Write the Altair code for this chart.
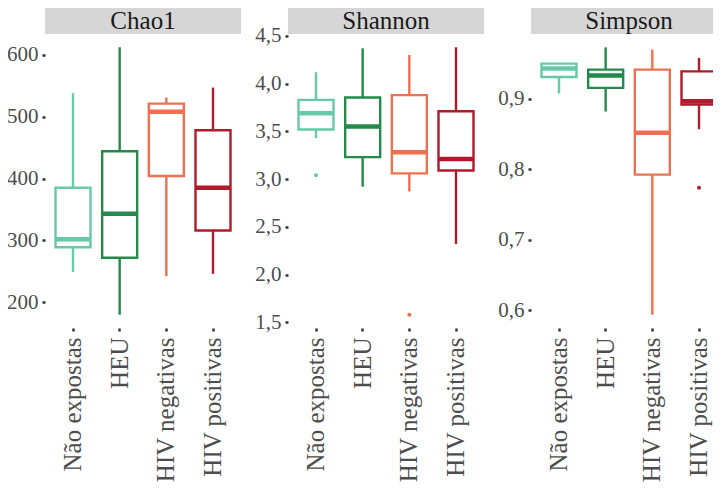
import altair as alt
import pandas as pd

groups = ["Não expostas", "HEU", "HIV negativas", "HIV positivas"]
colors = ["#66C9A8", "#24894A", "#EE7050", "#AE1B2C"]

# Chao1
chao1_low = [249, 180, 242, 246]
chao1_q1 = [289, 272, 404, 316]
chao1_med = [302, 343, 508, 385]
chao1_q3 = [385, 444, 521, 478]
chao1_high = [538, 612, 531, 547]
chao1_out_group = []
chao1_out_val = []
chao1_ticks = [200, 300, 400, 500, 600]

# Shannon
shannon_low = [3.43, 2.92, 2.87, 2.32]
shannon_q1 = [3.52, 3.23, 3.06, 3.09]
shannon_med = [3.69, 3.55, 3.28, 3.21]
shannon_q3 = [3.83, 3.855, 3.88, 3.71]
shannon_high = [4.12, 4.37, 4.30, 4.38]
shannon_out_group = ["Não expostas", "HIV negativas"]
shannon_out_val = [3.04, 1.58]
shannon_ticks = [1.5, 2.0, 2.5, 3.0, 3.5, 4.0, 4.5]

# Simpson
simpson_low = [0.9075, 0.882, 0.594, 0.857]
simpson_q1 = [0.931, 0.9156, 0.7926, 0.892]
simpson_med = [0.943, 0.933, 0.852, 0.8966]
simpson_q3 = [0.950, 0.9415, 0.9415, 0.939]
simpson_high = [0.951, 0.973, 0.970, 0.958]
simpson_out_group = ["HIV positivas"]
simpson_out_val = [0.774]
simpson_ticks = [0.6, 0.7, 0.8, 0.9]

W = 196
H = 294
STRIP = 30
FONT = "Liberation Serif"


def panel(name, low, q1, med, q3, high, og, ov, ticks, label_expr):
    df = pd.DataFrame({"group": groups, "low": low, "q1": q1, "med": med,
                       "q3": q3, "high": high})
    lo = min(low + ov)
    hi = max(high + ov)
    pad = (hi - lo) * 0.05
    yscale = alt.Scale(domain=[lo - pad, hi + pad], nice=False, zero=False)
    xenc = alt.X("group:N", sort=groups,
                 scale=alt.Scale(domain=groups, paddingInner=0, paddingOuter=0.1),
                 axis=alt.Axis(title=None, labelAngle=-90, labelFontSize=25,
                               labelPadding=6, labelLimit=400))
    if label_expr:
        yaxis = alt.Axis(title=None, values=ticks, labelFontSize=21, labelPadding=4,
                         labelExpr=label_expr)
    else:
        yaxis = alt.Axis(title=None, values=ticks, labelFontSize=21, labelPadding=4)
    col = alt.Color("group:N", scale=alt.Scale(domain=groups, range=colors), legend=None)
    scol = alt.Stroke("group:N", scale=alt.Scale(domain=groups, range=colors), legend=None)

    base = alt.Chart(df)
    whisk = base.mark_rule(strokeWidth=2.4).encode(
        x=xenc, y=alt.Y("low:Q", scale=yscale, axis=yaxis), y2="high:Q", color=col)
    box = base.mark_bar(fill="white", strokeWidth=2.4, size=35).encode(
        x=xenc, y=alt.Y("q1:Q"), y2="q3:Q", stroke=scol)
    medm = base.mark_tick(thickness=4.5, size=35, opacity=1).encode(
        x=xenc, y=alt.Y("med:Q"), color=col)
    layers = [whisk, box, medm]
    if og:
        odf = pd.DataFrame({"group": og, "val": ov})
        pts = alt.Chart(odf).mark_circle(size=16, opacity=1).encode(
            x=xenc, y=alt.Y("val:Q"), color=col)
        layers.append(pts)
    sdf = pd.DataFrame({"facet": [name]})
    srect = alt.Chart(sdf).mark_rect(fill="#D6D6D6").encode(
        x=alt.value(0), x2=alt.value(W), y=alt.value(-STRIP), y2=alt.value(0))
    stext = alt.Chart(sdf).mark_text(font=FONT, fontSize=25, color="#1A1A1A",
                                     baseline="middle", align="center").encode(
        x=alt.value(W / 2), y=alt.value(-STRIP / 2 + 2), text="facet:N")
    layers += [srect, stext]
    return alt.layer(*layers).properties(width=W, height=H)


p1 = panel("Chao1", chao1_low, chao1_q1, chao1_med, chao1_q3, chao1_high,
           chao1_out_group, chao1_out_val, chao1_ticks, None)
p2 = panel("Shannon", shannon_low, shannon_q1, shannon_med, shannon_q3, shannon_high,
           shannon_out_group, shannon_out_val, shannon_ticks,
           "replace(format(datum.value, '.1f'), '.', ',')")
p3 = panel("Simpson", simpson_low, simpson_q1, simpson_med, simpson_q3, simpson_high,
           simpson_out_group, simpson_out_val, simpson_ticks,
           "replace(format(datum.value, '.1f'), '.', ',')")

PL, PT = 37, 26
chart = alt.hconcat(p1, p2, p3, spacing=47, bounds="flush").resolve_scale(
    y="independent", color="independent", stroke="independent"
).properties(
    autosize=alt.AutoSizeParams(type="none"),
    padding={"left": PL, "top": PT, "right": 705 - PL, "bottom": 465 - PT},
    background="white",
).configure(font=FONT).configure_view(stroke=None).configure_axis(
    labelFont=FONT, labelColor="#4D4D4D", domain=False, grid=False,
    tickColor="#333333", tickSize=3, tickWidth=2.5,
).configure_text(font=FONT)

chart.save("out.html", embed_options={"renderer": "svg", "actions": False})
